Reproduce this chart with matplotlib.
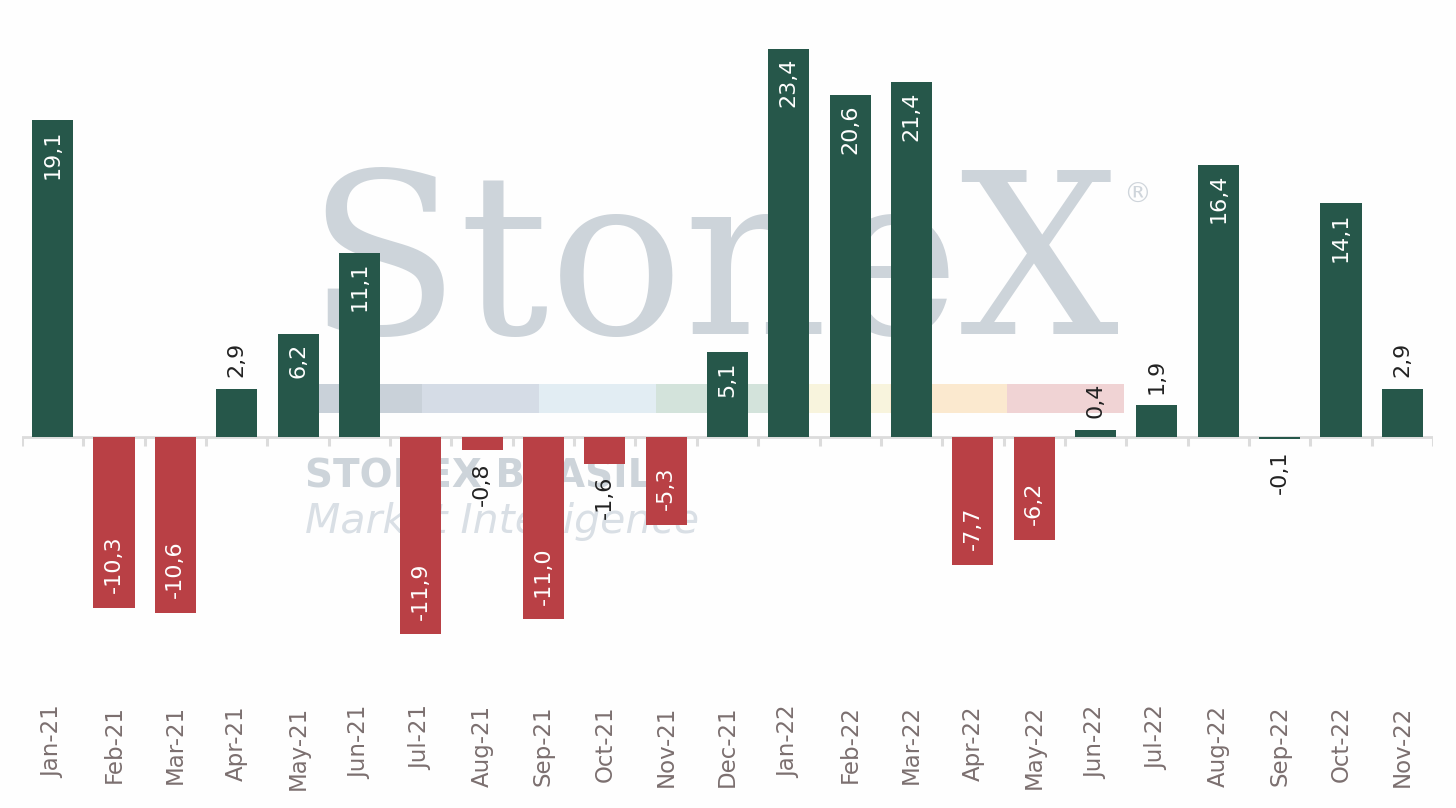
import matplotlib
matplotlib.use("Agg")
import matplotlib.pyplot as plt
import numpy as np

months = ["Jan-21", "Feb-21", "Mar-21", "Apr-21", "May-21", "Jun-21", "Jul-21", "Aug-21",
          "Sep-21", "Oct-21", "Nov-21", "Dec-21", "Jan-22", "Feb-22", "Mar-22", "Apr-22",
          "May-22", "Jun-22", "Jul-22", "Aug-22", "Sep-22", "Oct-22", "Nov-22"]
values = [19.1, -10.3, -10.6, 2.9, 6.2, 11.1, -11.9, -0.8, -11.0, -1.6, -5.3, 5.1,
          23.4, 20.6, 21.4, -7.7, -6.2, 0.4, 1.9, 16.4, -0.1, 14.1, 2.9]

GREEN = "#26574A"
RED = "#B94045"
W, H, DPI = 1456, 808, 100

fig = plt.figure(figsize=(W / DPI, H / DPI), dpi=DPI)
fig.patch.set_facecolor("#fefefe")

# ---- watermark (behind) ----
wm = fig.add_axes([0, 0, 1, 1], zorder=0)
wm.set_xlim(0, W)
wm.set_ylim(H, 0)
wm.axis("off")
strip_colors = ["#c9d1d9", "#d5dce6", "#e2edf3", "#d3e3db", "#f8f4dd", "#fbe9cf", "#f0d3d4"]
x0, seg = 305, 117
for i, c in enumerate(strip_colors):
    wm.add_patch(plt.Rectangle((x0 + i * seg, 384), seg, 29, color=c, lw=0))
wm.text(306, 334, "StoneX", family="DejaVu Serif", fontsize=161, color="#cdd4da",
        ha="left", va="baseline")
wm.text(1137, 195, "®", family="DejaVu Sans", fontsize=20, color="#cfd5db",
        ha="center", va="center")
wm.text(305, 488, "STONEX BRASIL", family="DejaVu Sans", fontweight="bold",
        fontsize=28, color="#cdd4da", ha="left", va="baseline")
wm.text(305, 533, "Market Intelligence", family="DejaVu Sans", style="italic",
        fontsize=29.5, color="#d9dfe5", ha="left", va="baseline")

# ---- main chart ----
top_px, bot_px, zero_px = 10, 690, 437
ppu = (437 - 49) / 23.4
ymax = (zero_px - top_px) / ppu
ymin = -(bot_px - zero_px) / ppu
ax = fig.add_axes([22 / W, (H - bot_px) / H, 1411 / W, (bot_px - top_px) / H], zorder=1)
ax.patch.set_alpha(0)

x = np.arange(len(months))
colors = [GREEN if v > -0.5 else RED for v in values]
ax.bar(x, values, width=0.67, color=colors, zorder=3)

ax.set_xlim(-0.5, len(months) - 0.5)
ax.set_ylim(ymin, ymax)
ax.axhline(0, color="#dcdcdc", lw=2.0, zorder=2)
ax.vlines(np.arange(len(months) + 1) - 0.5, -0.55, 0, color="#dcdcdc", lw=2.2, zorder=2)

for s in ax.spines.values():
    s.set_visible(False)
ax.set_yticks([])
ax.set_xticks(x)
ax.set_xticklabels(months, rotation=90, fontsize=16.5, color="#7b6f6f", family="DejaVu Sans")
ax.tick_params(axis="x", length=0, pad=11)

for xi, v in zip(x, values):
    txt = f"{v:.1f}".replace(".", ",")
    inside = abs(v) >= 4
    if v >= 0:
        if inside:
            dy, va, col = -6.5, "top", "white"
        else:
            dy, va, col = 8.6, "bottom", "#222222"
    else:
        if inside:
            dy, va, col = 10.5, "bottom", "white"
        else:
            dy, va, col = -8.6, "top", "#222222"
    ax.annotate(txt, (xi, v), xytext=(0, dy), textcoords="offset points",
                rotation=90, ha="center", va=va, fontsize=16, color=col, zorder=4)

fig.savefig("out.png", dpi=DPI, facecolor=fig.get_facecolor())
